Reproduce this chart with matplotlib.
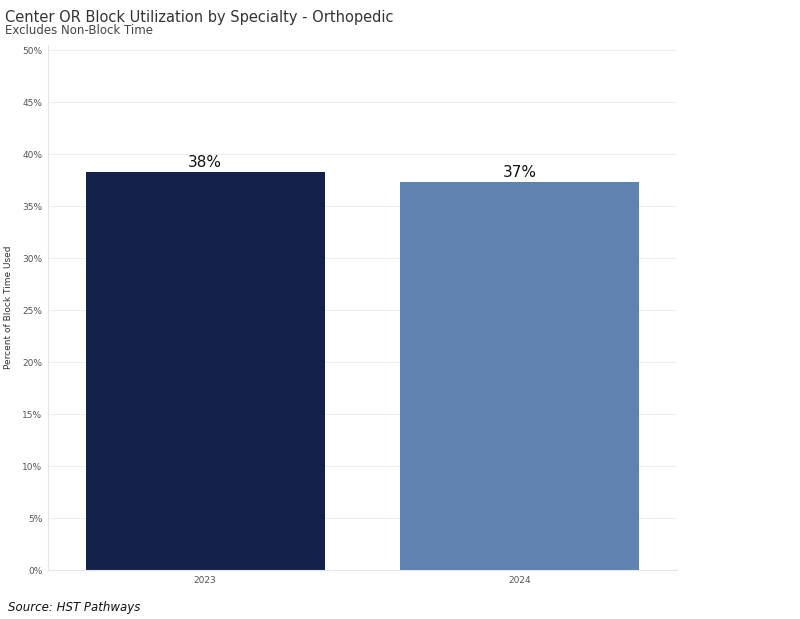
import matplotlib
matplotlib.use("Agg")
import matplotlib.pyplot as plt

years = ["2023", "2024"]
values = [38.3, 37.3]
labels = ["38%", "37%"]
colors = ["#14224b", "#5f82b1"]
yticks = list(range(0, 51, 5))

fig = plt.figure(figsize=(8, 6.19), dpi=100)
ax = fig.add_axes([0.06, 0.079, 0.786, 0.848])
x = list(range(len(years)))
ax.bar(x, values, width=0.76, color=colors, zorder=2)
for xi, v, l in zip(x, values, labels):
    ax.text(xi, v + 0.2, l, ha="center", va="bottom", fontsize=11, color="#111")
ax.set_xlim(-0.5, 1.5)
ax.set_ylim(0, 50.5)
ax.set_xticks(x)
ax.set_xticklabels(years, fontsize=6.5, color="#555")
ax.set_yticks(yticks)
ax.set_yticklabels([f"{t}%" for t in yticks], fontsize=6.5, color="#555")
ax.grid(axis="y", color="#eeeeee", linewidth=0.8, zorder=0)
for s in ax.spines.values():
    s.set_visible(False)
ax.spines["left"].set_visible(True)
ax.spines["left"].set_color("#e6e6e6")
ax.spines["bottom"].set_visible(True)
ax.spines["bottom"].set_color("#e6e6e6")
ax.tick_params(length=0, pad=4)
ax.set_ylabel("Percent of Block Time Used", fontsize=6.5, color="#333")
ax.yaxis.set_label_coords(-0.056, 0.5)
fig.text(0.006, 0.972, "Center OR Block Utilization by Specialty - Orthopedic", fontsize=10.5, color="#333", va="center")
fig.text(0.006, 0.950, "Excludes Non-Block Time", fontsize=8.5, color="#444", va="center")
fig.text(0.01, 0.019, "Source: HST Pathways", fontsize=8.5, style="italic", color="#111", va="center")
fig.savefig("out.png", dpi=100, facecolor="white")
